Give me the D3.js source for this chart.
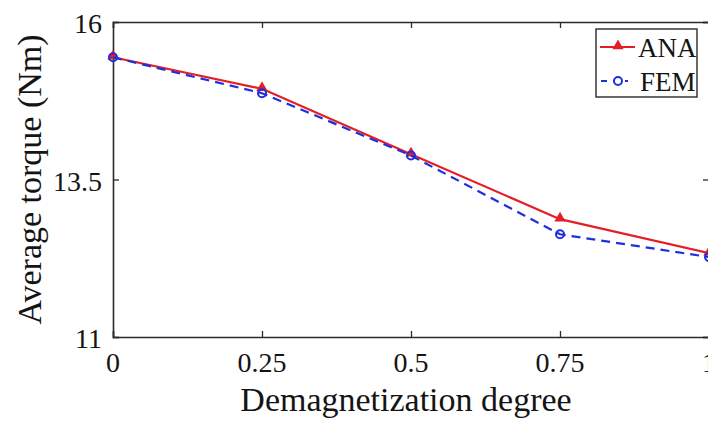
<!DOCTYPE html>
<html>
<head>
<meta charset="utf-8">
<script src="https://cdn.jsdelivr.net/npm/d3@7"></script>
<style>
  html, body { margin: 0; padding: 0; background: #fff; overflow: hidden; }
</style>
</head>
<body>
<svg id="chart" width="708" height="421"></svg>
<script>
const categories = [0, 0.25, 0.5, 0.75, 1];
const xTickLabels = ["0", "0.25", "0.5", "0.75", "1"];
const anaValues = [15.44, 14.94, 13.90, 12.87, 12.33];
const femValues = [15.44, 14.87, 13.88, 12.63, 12.27];
const yTicks = [11, 13.5, 16];
const yTickLabels = ["11", "13.5", "16"];
const seriesNames = ["ANA", "FEM"];

const W = 708, H = 421;
const mLeft = 113, mRight = 709, mTop = 22, mBottom = 337;
const FONT = "'Liberation Serif', 'Times New Roman', Times, 'DejaVu Serif', serif";
const svg = d3.select("#chart").attr("font-family", FONT);

const x = d3.scaleLinear().domain([0, 1]).range([mLeft, mRight]);
const y = d3.scaleLinear().domain([11, 16]).range([mBottom, mTop]);

const axisColor = "#2a2a2a";
const textColor = "#141414";
const red = "#e41e26";
const blue = "#1f2fdc";

// frame & ticks
const gx = svg.append("g").attr("transform", `translate(0,${mBottom})`)
  .call(d3.axisBottom(x).tickValues(categories).tickSize(-6).tickFormat(""));
const gxt = svg.append("g").attr("transform", `translate(0,${mTop})`)
  .call(d3.axisTop(x).tickValues(categories).tickSize(-6).tickFormat(""));
const gy = svg.append("g").attr("transform", `translate(${mLeft},0)`)
  .call(d3.axisLeft(y).tickValues(yTicks).tickSize(-6).tickFormat(""));
const gyr = svg.append("g").attr("transform", `translate(${mRight},0)`)
  .call(d3.axisRight(y).tickValues(yTicks).tickSize(-6).tickFormat(""));
[gx, gxt, gy, gyr].forEach(g => {
  g.selectAll("path.domain").attr("stroke", axisColor).attr("stroke-width", 1.6);
  g.selectAll(".tick line").attr("stroke", axisColor).attr("stroke-width", 1.3);
});

// tick labels
svg.append("g").selectAll("text").data(categories).join("text")
  .attr("x", d => x(d)).attr("y", mBottom + 35)
  .attr("text-anchor", "middle").attr("font-size", 28)
  .attr("font-family", FONT).attr("fill", textColor)
  .text((d, i) => xTickLabels[i]);
svg.append("g").selectAll("text").data(yTicks).join("text")
  .attr("x", mLeft - 11).attr("y", d => y(d) + 11)
  .attr("text-anchor", "end").attr("font-size", 28)
  .attr("font-family", FONT).attr("fill", textColor)
  .text((d, i) => yTickLabels[i]);

// axis titles
svg.append("text").attr("x", (mLeft + mRight) / 2 - 5).attr("y", 411)
  .attr("text-anchor", "middle").attr("font-size", 34)
  .attr("font-family", FONT).attr("fill", textColor)
  .text("Demagnetization degree");
svg.append("text").attr("transform", `translate(41,${(mTop + mBottom) / 2}) rotate(-90)`)
  .attr("text-anchor", "middle").attr("font-size", 34)
  .attr("font-family", FONT).attr("fill", textColor)
  .text("Average torque (Nm)");

const line = d3.line().x((d, i) => x(categories[i])).y(d => y(d));
const tri = d3.symbol().type(d3.symbolTriangle).size(55);

// ANA
svg.append("path").datum(anaValues).attr("d", line)
  .attr("fill", "none").attr("stroke", red).attr("stroke-width", 2.2);
svg.append("g").selectAll("path").data(anaValues).join("path")
  .attr("d", tri).attr("transform", (d, i) => `translate(${x(categories[i])},${y(d) - 1})`)
  .attr("fill", red);

// FEM
svg.append("path").datum(femValues).attr("d", line)
  .attr("fill", "none").attr("stroke", blue).attr("stroke-width", 2.2)
  .attr("stroke-dasharray", "9,6");
svg.append("g").selectAll("circle").data(femValues).join("circle")
  .attr("cx", (d, i) => x(categories[i])).attr("cy", d => y(d)).attr("r", 4)
  .attr("fill", "none").attr("stroke", blue).attr("stroke-width", 2);

// legend
const lg = svg.append("g");
lg.append("rect").attr("x", 596).attr("y", 29).attr("width", 101).attr("height", 68)
  .attr("fill", "#fff").attr("stroke", axisColor).attr("stroke-width", 1.4);
lg.append("line").attr("x1", 600).attr("x2", 635).attr("y1", 47).attr("y2", 47)
  .attr("stroke", red).attr("stroke-width", 2.2);
lg.append("path").attr("d", tri).attr("transform", "translate(618,46)").attr("fill", red);
lg.append("text").attr("x", 638).attr("y", 57).attr("font-size", 27)
  .attr("font-family", FONT).attr("fill", textColor).text(seriesNames[0]);
lg.append("line").attr("x1", 601).attr("x2", 628).attr("y1", 81).attr("y2", 81)
  .attr("stroke", blue).attr("stroke-width", 2.2).attr("stroke-dasharray", "6,6");
lg.append("circle").attr("cx", 618).attr("cy", 81).attr("r", 4)
  .attr("fill", "#fff").attr("stroke", blue).attr("stroke-width", 2);
lg.append("text").attr("x", 640).attr("y", 91).attr("font-size", 27)
  .attr("font-family", FONT).attr("fill", textColor).text(seriesNames[1]);
</script>
</body>
</html>
